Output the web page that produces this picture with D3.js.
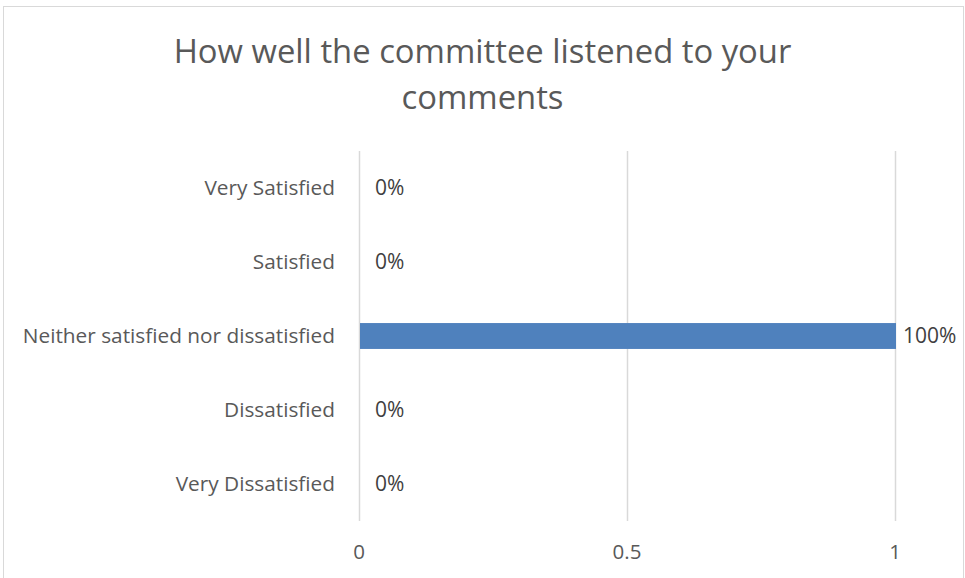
<!DOCTYPE html>
<html>
<head>
<meta charset="utf-8">
<script src="https://cdn.jsdelivr.net/npm/d3@7"></script>
<style>
  html, body { margin: 0; padding: 0; background: #fff; }
  svg { display: block; }
</style>
</head>
<body>
<svg id="chart" width="965" height="578"></svg>
<script>
// Survey answers, top to bottom
const categories = [
  "Very Satisfied",
  "Satisfied",
  "Neither satisfied nor dissatisfied",
  "Dissatisfied",
  "Very Dissatisfied"
];
// Share of responses per answer (fraction of 1)
const shares = [0, 0, 1, 0, 0];
const xTicks = [0, 0.5, 1];
const titleLines = ["How well the committee listened to your", "comments"];

const W = 965, H = 578;
const margin = { left: 359, right: 70, top: 151, bottom: 57 };
const svg = d3.select("#chart");
const font = "'Open Sans', 'Liberation Sans', sans-serif";
const textColor = "#595959";

// Chart frame
svg.append("rect")
  .attr("x", 3.5).attr("y", 6.5)
  .attr("width", 960).attr("height", 580)
  .attr("fill", "#fff").attr("stroke", "#d9d9d9").attr("stroke-width", 1);

const x = d3.scaleLinear().domain([0, 1]).range([margin.left, W - margin.right]);
const y = d3.scaleBand().domain(categories)
  .range([margin.top, H - margin.bottom])
  .paddingInner(0.65).paddingOuter(0.325);

// Vertical gridlines
svg.append("g").selectAll("line").data(xTicks).join("line")
  .attr("x1", d => x(d) + 0.5).attr("x2", d => x(d) + 0.5)
  .attr("y1", margin.top).attr("y2", H - margin.bottom)
  .attr("stroke", "#d9d9d9").attr("stroke-width", 1.5);

// Bars
svg.append("g").selectAll("rect").data(categories).join("rect")
  .attr("x", x(0) + 1)
  .attr("y", d => y(d))
  .attr("width", (d, i) => Math.max(0, x(shares[i]) - x(0)))
  .attr("height", y.bandwidth())
  .attr("fill", "#4f81bd");

// Value labels (outside end of each bar)
svg.append("g").selectAll("text").data(categories).join("text")
  .attr("x", (d, i) => x(shares[i]) + (shares[i] > 0 ? 8 : 16))
  .attr("y", d => y(d) + y.bandwidth() / 2)
  .attr("dy", "0.35em")
  .attr("font-family", font).attr("font-size", 21)
  .attr("fill", "#404040")
  .text((d, i) => d3.format(".0%")(shares[i]));

// Category axis labels
svg.append("g").selectAll("text").data(categories).join("text")
  .attr("x", margin.left - 24)
  .attr("y", d => y(d) + y.bandwidth() / 2)
  .attr("dy", "0.35em")
  .attr("text-anchor", "end")
  .attr("font-family", font).attr("font-size", 20.8)
  .attr("fill", textColor)
  .text(d => d);

// Value axis tick labels
svg.append("g").selectAll("text").data(xTicks).join("text")
  .attr("x", d => x(d))
  .attr("y", H - margin.bottom + 31)
  .attr("dy", "0.35em")
  .attr("text-anchor", "middle")
  .attr("font-family", font).attr("font-size", 20.5)
  .attr("fill", textColor)
  .text(d => d3.format("")(d));

// Title
svg.append("g").selectAll("text").data(titleLines).join("text")
  .attr("x", W / 2)
  .attr("y", (d, i) => 63 + i * 46)
  .attr("text-anchor", "middle")
  .attr("font-family", font).attr("font-size", 32.8)
  .attr("fill", textColor)
  .text(d => d);
</script>
</body>
</html>
